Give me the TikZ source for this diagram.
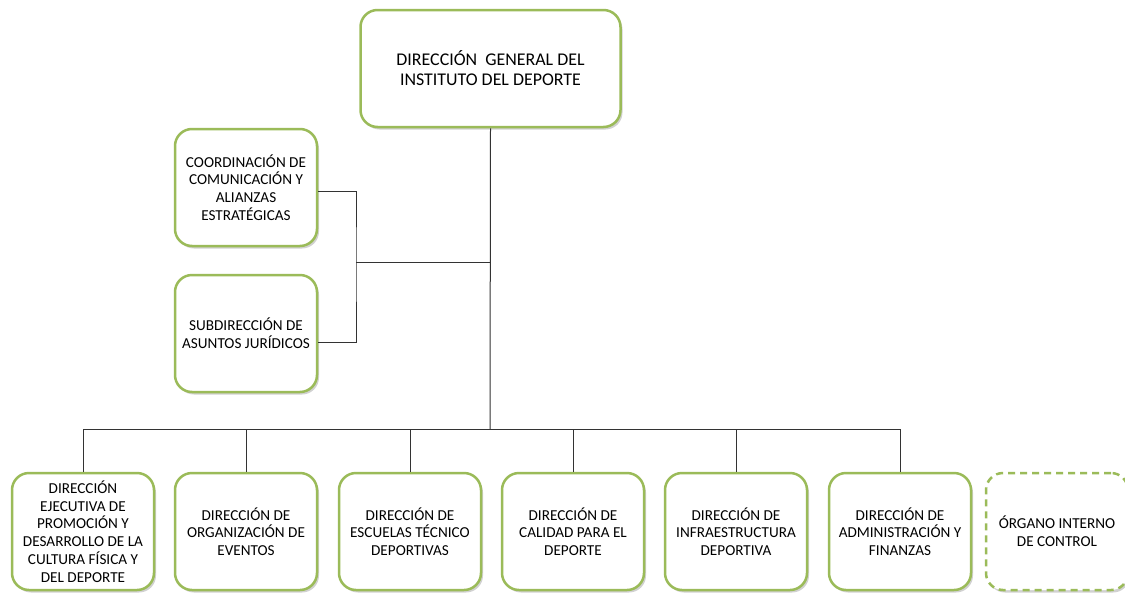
\documentclass[tikz,border=0pt]{standalone}
\usepackage{fontspec}
\setmainfont{Carlito}
\usetikzlibrary{shadows}
\definecolor{olivegreen}{HTML}{9BBB59}

\begin{document}
\begin{tikzpicture}[x=1pt,y=-1pt,
  unit/.style={draw=olivegreen,line width=2.5pt,fill=white,rounded corners=17pt,
    minimum width=142pt,minimum height=117pt,inner sep=1pt,align=center,
    font=\fontsize{15.2}{17.8}\selectfont,
    drop shadow={opacity=0.3,shadow xshift=2pt,shadow yshift=-2.5pt,fill=black!60}},
  external/.style={unit,dashed,dash pattern=on 7pt off 5pt},
  link/.style={draw=black!80,line width=1pt}]
 \useasboundingbox (0,0) rectangle (1125,592);
 % head
 \node[unit,minimum width=260pt,font=\fontsize{17.9}{20}\selectfont] (head) at (490.5,68.5)
  {DIRECCIÓN\ \ GENERAL DEL\\INSTITUTO DEL DEPORTE};
 % staff units
 \node[unit] (coord) at (246,187.5)
  {COORDINACIÓN DE\\COMUNICACIÓN Y\\ALIANZAS\\ESTRATÉGICAS};
 \node[unit] (subdir) at (246,333.5)
  {SUBDIRECCIÓN DE\\ASUNTOS JURÍDICOS};
 % line units
 \node[unit] (promo) at (83,531.5)
  {DIRECCIÓN\\EJECUTIVA DE\\PROMOCIÓN Y\\DESARROLLO DE LA\\CULTURA FÍSICA Y\\DEL DEPORTE};
 \node[unit] (eventos) at (246,531.5)
  {DIRECCIÓN DE\\ORGANIZACIÓN DE\\EVENTOS};
 \node[unit] (escuelas) at (410,531.5)
  {DIRECCIÓN DE\\ESCUELAS TÉCNICO\\DEPORTIVAS};
 \node[unit] (calidad) at (573,531.5)
  {DIRECCIÓN DE\\CALIDAD PARA EL\\DEPORTE};
 \node[unit] (infra) at (736,531.5)
  {DIRECCIÓN DE\\INFRAESTRUCTURA\\DEPORTIVA};
 \node[unit] (admin) at (900,531.5)
  {DIRECCIÓN DE\\ADMINISTRACIÓN Y\\FINANZAS};
 \node[external] (oic) at (1057,531.5)
  {ÓRGANO INTERNO\\DE CONTROL};
 % connectors
 \coordinate (hub) at (490,262);
 \coordinate (side) at (356,262);
 \coordinate (bus) at (490,429);
 \draw[link] (head.south) -- (bus);
 \draw[link] ([yshift=-4pt]coord.east) -| (side) |- ([yshift=-9pt]subdir.east);
 \draw[link] (side) -- (hub);
 \foreach \n in {promo,eventos,escuelas,calidad,infra,admin}
  \draw[link] (bus) -| (\n.north);
\end{tikzpicture}
\end{document}
